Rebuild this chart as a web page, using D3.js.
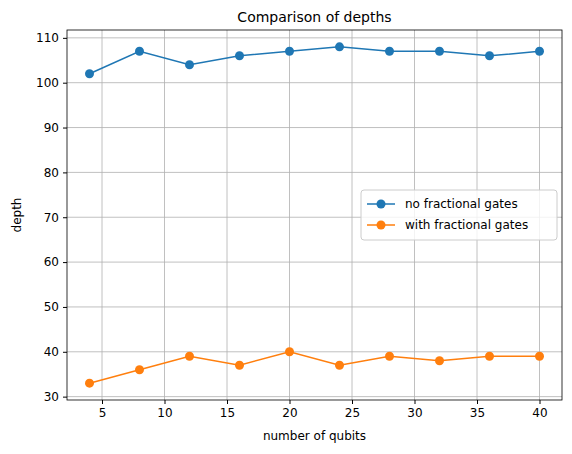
<!DOCTYPE html>
<html><head><meta charset="utf-8">
<script src="https://cdn.jsdelivr.net/npm/d3@7"></script>
<style>body{margin:0;background:#fff}text{font-family:"DejaVu Sans",sans-serif}</style>
</head><body>
<svg id="c" width="572" height="454"></svg>
<script>
const qubits=[4,8,12,16,20,24,28,32,36,40];
const noFrac=[102,107,104,106,107,108,107,107,106,107];
const withFrac=[33,36,39,37,40,37,39,38,39,39];
const xTicks=[5,10,15,20,25,30,35,40];
const yTicks=[30,40,50,60,70,80,90,100,110];
const L=67,R=562,T=30,B=400;
const svg=d3.select("#c");
const x=d3.scaleLinear().domain([2.2,41.8]).range([L,R]);
const y=d3.scaleLinear().domain([29.25,111.75]).range([B,T]);
const g=svg.append("g");
g.selectAll(".gx").data(xTicks).enter().append("line").attr("x1",d=>x(d)).attr("x2",d=>x(d)).attr("y1",T).attr("y2",B).attr("stroke","#b0b0b0").attr("stroke-width",0.8);
g.selectAll(".gy").data(yTicks).enter().append("line").attr("y1",d=>y(d)).attr("y2",d=>y(d)).attr("x1",L).attr("x2",R).attr("stroke","#b0b0b0").attr("stroke-width",0.8);
const xa=svg.append("g").attr("transform",`translate(0,${B})`).call(d3.axisBottom(x).tickValues(xTicks).tickSize(4).tickPadding(4));
const ya=svg.append("g").attr("transform",`translate(${L},0)`).call(d3.axisLeft(y).tickValues(yTicks).tickSize(4).tickPadding(4));
[xa,ya].forEach(a=>{a.select(".domain").remove();a.selectAll("text").attr("font-size",12).attr("fill","#000");a.selectAll("line").attr("stroke","#000")});
svg.append("rect").attr("x",L).attr("y",T).attr("width",R-L).attr("height",B-T).attr("fill","none").attr("stroke","#000").attr("stroke-width",0.8);
const series=[{v:noFrac,c:"#1f77b4",n:"no fractional gates"},{v:withFrac,c:"#ff7f0e",n:"with fractional gates"}];
const line=d3.line().x((d,i)=>x(qubits[i])).y(d=>y(d));
series.forEach(s=>{
svg.append("path").attr("d",line(s.v)).attr("fill","none").attr("stroke",s.c).attr("stroke-width",1.5);
svg.selectAll(null).data(s.v).enter().append("circle").attr("cx",(d,i)=>x(qubits[i])).attr("cy",d=>y(d)).attr("r",4.5).attr("fill",s.c);
});
const lg=svg.append("g").attr("transform","translate(361,190)");
lg.append("rect").attr("width",196).attr("height",50).attr("rx",3).attr("fill","#fff").attr("fill-opacity",0.8).attr("stroke","#ccc");
series.forEach((s,i)=>{
const yy=14+i*21;
lg.append("line").attr("x1",6).attr("x2",34).attr("y1",yy).attr("y2",yy).attr("stroke",s.c).attr("stroke-width",1.5);
lg.append("circle").attr("cx",20).attr("cy",yy).attr("r",4.5).attr("fill",s.c);
lg.append("text").attr("x",44).attr("y",yy+4).attr("font-size",12).text(s.n);
});
svg.append("text").attr("x",(L+R)/2).attr("y",T-8).attr("text-anchor","middle").attr("font-size",14).text("Comparison of depths");
svg.append("text").attr("x",(L+R)/2).attr("y",440).attr("text-anchor","middle").attr("font-size",12).text("number of qubits");
svg.append("text").attr("transform",`translate(21,${(T+B)/2}) rotate(-90)`).attr("text-anchor","middle").attr("font-size",12).text("depth");
</script></body></html>
